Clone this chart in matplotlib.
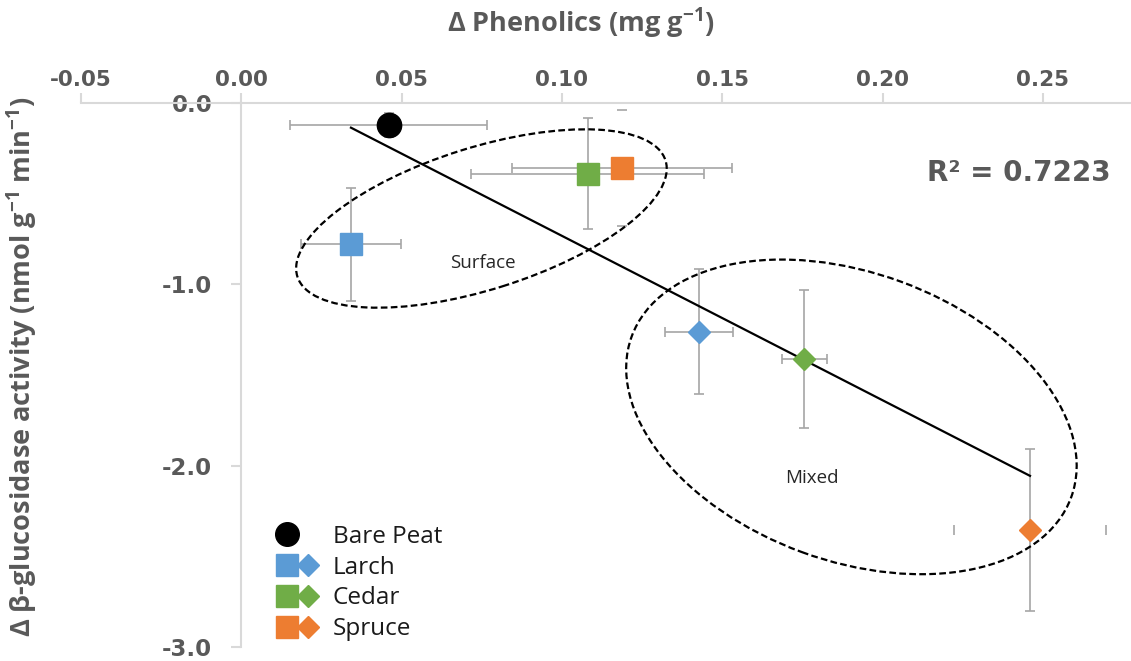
import numpy as np
import matplotlib
matplotlib.use("Agg")
import matplotlib.pyplot as plt
from matplotlib.lines import Line2D
from matplotlib.legend_handler import HandlerTuple
from matplotlib.patches import Ellipse
from matplotlib.transforms import ScaledTranslation

# ---- data ----
bare_x = [0.046]
bare_y = [-0.121]
bare_xerr = [0.0307]
bare_yerr = [0.067]

species = ['Larch', 'Cedar', 'Spruce']
colores = ['#5B9BD5', '#70AD47', '#ED7D31']

# surface (squares)
surface_x = [0.0342, 0.108, 0.1186]
surface_y = [-0.78, -0.389, -0.361]
surface_xerr = [0.0155, 0.0364, 0.0343]
surface_yerr = [0.31, 0.307, 0.32]

# mixed (diamonds)
mixed_x = [0.1428, 0.1756, 0.246]
mixed_y = [-1.262, -1.413, -2.354]
mixed_xerr = [0.0105, 0.007, 0.0236]
mixed_yerr = [0.344, 0.38, 0.445]

r2_text = 'R² = 0.7223'
xticks = [-0.05, 0.00, 0.05, 0.10, 0.15, 0.20, 0.25]
yticks = [0.0, -1.0, -2.0, -3.0]

plt.rcParams['font.family'] = ['Open Sans', 'DejaVu Sans']
plt.rcParams['mathtext.fontset'] = 'custom'
plt.rcParams['mathtext.rm'] = 'Open Sans'
plt.rcParams['mathtext.bf'] = 'Open Sans:bold'
plt.rcParams['mathtext.default'] = 'bf'

gris = '#595959'
gris_eje = '#d9d9d9'
gris_err = '#a6a6a6'

fig = plt.figure(figsize=(11.31, 6.61), dpi=100)
ax = fig.add_axes([81 / 1131, 14 / 661, 1050 / 1131, 544 / 661])
ax.set_xlim(-0.05, 0.2775)
ax.set_ylim(-3, 0)

# ejes cruzando en cero, estilo Excel
for s in ['bottom', 'right']:
    ax.spines[s].set_visible(False)
ax.spines['left'].set_position(('data', 0))
for s in ['top', 'left']:
    ax.spines[s].set_color(gris_eje)
    ax.spines[s].set_linewidth(1.5)
ax.xaxis.tick_top()
ax.set_xticks(xticks)
ax.set_xticklabels(['%.2f' % v for v in xticks])
ax.set_yticks(yticks)
ax.set_yticklabels(['%.1f' % v for v in yticks])
ax.tick_params(axis='both', direction='out', length=7, width=1.5, color=gris_eje,
               labelcolor=gris)
ax.tick_params(axis='x', pad=2, labelsize=15.5)
ax.tick_params(axis='y', pad=14, labelsize=16.5)
for lab in ax.get_xticklabels() + ax.get_yticklabels():
    lab.set_fontweight('bold')
    lab.set_family('DejaVu Sans')

# barras de error
def errores(x, y, xerr, yerr, ocultar_x=False, ocultar_y=False):
    ex = ax.errorbar(x, y, xerr=xerr, fmt='none', ecolor=gris_err, elinewidth=1.2,
                     capsize=3.5, capthick=1.2, zorder=2, clip_on=False)
    ey = ax.errorbar(x, y, yerr=yerr, fmt='none', ecolor=gris_err, elinewidth=1.2,
                     capsize=3.5, capthick=1.2, zorder=2, clip_on=False)
    if ocultar_x:
        ex[2][0].set_visible(False)
    if ocultar_y:
        ey[2][0].set_visible(False)

errores(bare_x, bare_y, bare_xerr, bare_yerr)
for i in range(3):
    errores([surface_x[i]], [surface_y[i]], [surface_xerr[i]], [surface_yerr[i]],
            ocultar_y=(species[i] == 'Spruce'))
    errores([mixed_x[i]], [mixed_y[i]], [mixed_xerr[i]], [mixed_yerr[i]],
            ocultar_x=(species[i] == 'Spruce'))

# linea de tendencia con todos los puntos
todos_x = np.array(bare_x + surface_x + mixed_x)
todos_y = np.array(bare_y + surface_y + mixed_y)
m, b = np.polyfit(todos_x, todos_y, 1)
xs = np.array([todos_x.min(), todos_x.max()])
ax.plot(xs, m * xs + b, color='black', lw=1.6, zorder=3)

# marcadores
ax.plot(bare_x, bare_y, 'o', color='black', ms=17.5, zorder=5, clip_on=False)
for i in range(3):
    ax.plot(surface_x[i], surface_y[i], 's', color=colores[i], ms=16.5, zorder=5)
    ax.plot(mixed_x[i], mixed_y[i], 'D', color=colores[i], ms=11.5, zorder=5)

# elipses punteadas (tamaños en pixeles)
def elipse(cx, cy, a_px, b_px, ang):
    tr = fig.dpi_scale_trans + ScaledTranslation(cx, cy, ax.transData)
    e = Ellipse((0, 0), 2 * a_px / 100, 2 * b_px / 100, angle=ang, transform=tr,
                fill=False, edgecolor='black', lw=1.6, linestyle=(0, (3, 1.5)), zorder=4)
    ax.add_patch(e)

elipse(0.0749, -0.637, 193, 71, 17.5)
elipse(0.1903, -1.731, 234, 144, -20.1)
ax.text(0.0754, -0.881, 'Surface', fontsize=13.5, color='#262626', ha='center', va='center')
ax.text(0.1779, -2.069, 'Mixed', fontsize=13.5, color='#262626', ha='center', va='center')

ax.text(0.2425, -0.385, r2_text, fontsize=20, color=gris, ha='center', va='center',
        fontweight='bold', family='DejaVu Sans')

# titulos de ejes
fig.text(581 / 1131, 1 - 23 / 661, 'Δ Phenolics (mg g$^{-1}$)', fontsize=19.5,
         fontweight='bold', color=gris, ha='center', va='center')
fig.text(22 / 1131, 1 - 367 / 661, 'Δ β-glucosidase activity (nmol g$^{-1}$ min$^{-1}$)',
         fontsize=19.5, fontweight='bold', color=gris, ha='center', va='center',
         rotation=90)

# leyenda
vacio = Line2D([], [], ls='none')
manijas = [(Line2D([], [], marker='o', color='black', ls='none', ms=17), vacio)]
for i in range(3):
    manijas.append((Line2D([], [], marker='s', color=colores[i], ls='none', ms=16),
                    Line2D([], [], marker='D', color=colores[i], ls='none', ms=11.5)))
ax.legend(manijas, ['Bare Peat'] + species, handler_map={tuple: HandlerTuple(ndivide=None, pad=0)},
          loc='upper left', bbox_to_anchor=(276 / 1131, 1 - 525 / 661),
          bbox_transform=fig.transFigure, frameon=False, borderpad=0, borderaxespad=0,
          fontsize=17.5, handlelength=1.73, handletextpad=0.6, labelspacing=0.276,
          labelcolor='#1a1a1a')

fig.savefig('out.png', dpi=100)
